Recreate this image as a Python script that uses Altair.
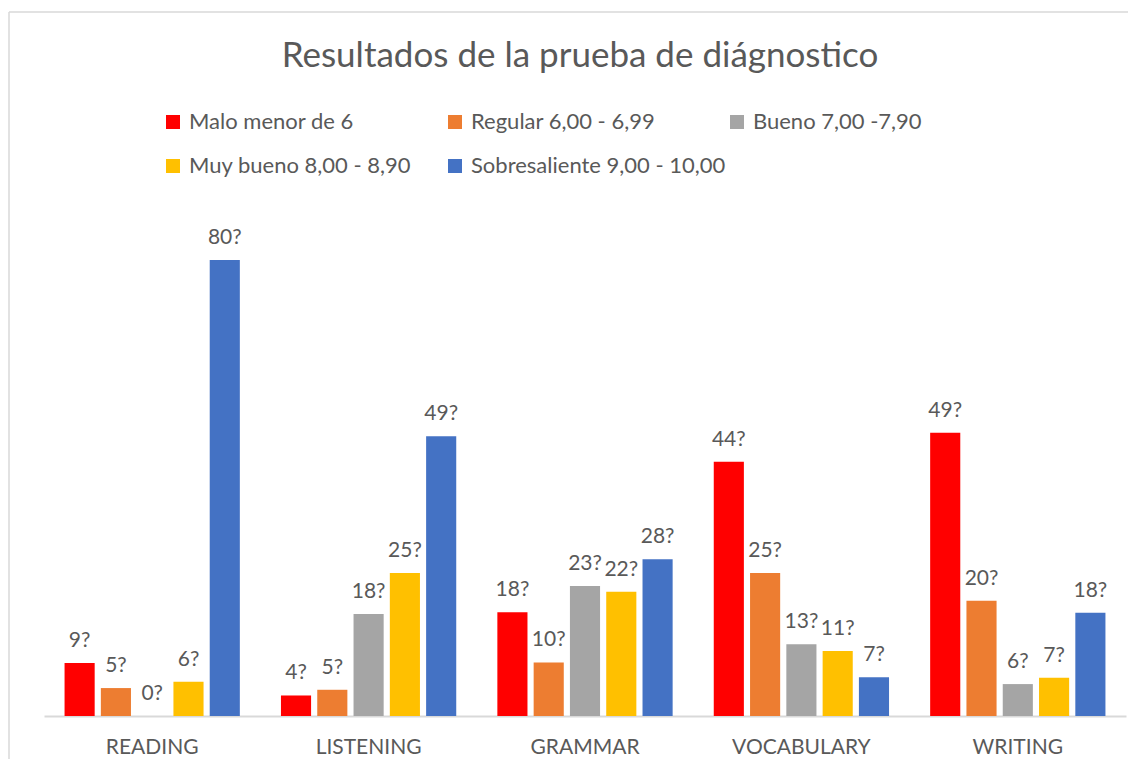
import altair as alt
import pandas as pd

categories = ["READING", "LISTENING", "GRAMMAR", "VOCABULARY", "WRITING"]
series = [
    "Malo menor de 6",
    "Regular 6,00 - 6,99",
    "Bueno 7,00 -7,90",
    "Muy bueno 8,00 - 8,90",
    "Sobresaliente 9,00 - 10,00",
]
colors = ["#FF0000", "#ED7D31", "#A5A5A5", "#FFC000", "#4472C4"]

malo = [9.3, 3.6, 18.2, 44.6, 49.7]
regular = [4.9, 4.6, 9.4, 25.1, 20.2]
bueno = [0.0, 17.9, 22.8, 12.6, 5.6]
muy_bueno = [6.0, 25.1, 21.8, 11.4, 6.7]
sobresaliente = [80.0, 49.1, 27.5, 6.8, 18.1]

labels_malo = ["9?", "4?", "18?", "44?", "49?"]
labels_regular = ["5?", "5?", "10?", "25?", "20?"]
labels_bueno = ["0?", "18?", "23?", "13?", "6?"]
labels_muy_bueno = ["6?", "25?", "22?", "11?", "7?"]
labels_sobresaliente = ["80?", "49?", "28?", "7?", "18?"]

values = [malo, regular, bueno, muy_bueno, sobresaliente]
labels = [labels_malo, labels_regular, labels_bueno, labels_muy_bueno, labels_sobresaliente]

rows = []
for s, vals, labs in zip(series, values, labels):
    for c, v, l in zip(categories, vals, labs):
        rows.append({"cat": c, "serie": s, "valor": v, "etiqueta": l})
df = pd.DataFrame(rows)

FONT = "Lato"
GREY = "#595959"
W, H = 1082, 513

base = alt.Chart(df).encode(
    x=alt.X(
        "cat:N",
        sort=categories,
        scale=alt.Scale(paddingInner=0.19, paddingOuter=0.095),
        axis=alt.Axis(
            title=None,
            labelAngle=0,
            domainColor="#D9D9D9",
            domainWidth=2,
            ticks=False,
            labelFontSize=21,
            labelFont=FONT,
            labelColor=GREY,
            labelPadding=20,
        ),
    ),
    xOffset=alt.XOffset(
        "serie:N", sort=series, scale=alt.Scale(paddingInner=0.17, paddingOuter=0)
    ),
)

bars = base.mark_bar().encode(
    y=alt.Y("valor:Q", scale=alt.Scale(domain=[0, 90], nice=False), axis=None),
    color=alt.Color(
        "serie:N",
        sort=series,
        scale=alt.Scale(domain=series, range=colors),
        legend=alt.Legend(
            title=None,
            orient="none",
            legendX=118,
            legendY=-92,
            direction="horizontal",
            columns=3,
            gridAlign="all",
            symbolType="square",
            symbolSize=196,
            symbolStrokeWidth=0,
            labelFontSize=22,
            labelFont=FONT,
            labelColor=GREY,
            labelOffset=5,
            columnPadding=-1,
            rowPadding=22,
            labelLimit=0,
        ),
    ),
)

text = base.mark_text(
    baseline="alphabetic", dy=-16, fontSize=21, font=FONT, color=GREY
).encode(y=alt.Y("valor:Q"), text="etiqueta:N")

frame_df = pd.DataFrame({"k": [0]})
top_rule = alt.Chart(frame_df).mark_rule(color="#D9D9D9", strokeWidth=1.5).encode(
    x=alt.value(-35), x2=alt.value(W + 2), y=alt.value(-191)
)
left_rule = alt.Chart(frame_df).mark_rule(color="#D9D9D9", strokeWidth=1.5).encode(
    x=alt.value(-35), y=alt.value(-191), y2=alt.value(556)
)

chart = (
    alt.layer(top_rule, left_rule, bars, text)
    .properties(
        width=W,
        height=H,
        padding={"left": 36, "top": 195, "right": 2, "bottom": 43},
        autosize=alt.AutoSizeParams(type="none"),
        title=alt.TitleParams(
            "Resultados de la prueba de diágnostico",
            fontSize=35,
            font=FONT,
            color=GREY,
            fontWeight="normal",
            anchor="middle",
            baseline="alphabetic",
            offset=-91,
            dx=-5,
        ),
    )
    .configure_view(stroke=None)
)

chart.save("out.html", embed_options={"renderer": "svg", "actions": False})
